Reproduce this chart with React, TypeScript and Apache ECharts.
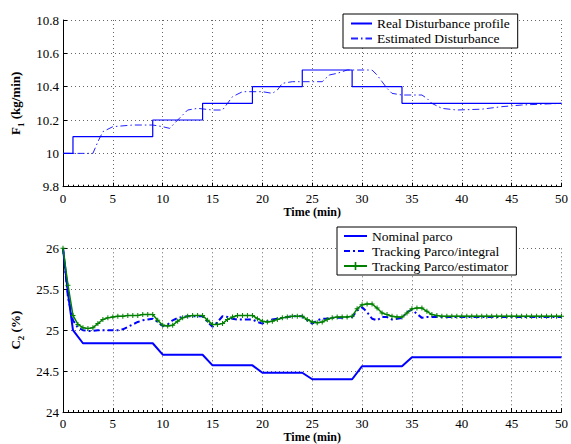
import React, { useEffect, useRef } from "react";
import * as echarts from "echarts";

// ---- Top plot: disturbance F1 (kg/min) ----
const realDisturbance: [number, number][] = [
  [0, 10.0], [1, 10.1], [9, 10.2], [14, 10.3], [19, 10.4],
  [24, 10.5], [29, 10.4], [34, 10.3], [50, 10.3],
];
const estimatedDisturbance: [number, number][] = [
  [0, 10.0], [2, 10.0], [3, 10.0], [3.5, 10.07], [4, 10.13], [5, 10.16],
  [7, 10.17], [9, 10.17], [10, 10.16], [10.7, 10.15], [11.5, 10.2],
  [12.5, 10.26], [13.5, 10.27], [15, 10.26], [16, 10.26], [16.5, 10.3],
  [17, 10.34], [18, 10.37], [20, 10.37], [21, 10.36], [21.5, 10.38],
  [22, 10.42], [23, 10.43], [26, 10.43], [26.7, 10.47], [27.5, 10.48],
  [28.5, 10.5], [31, 10.5], [31.5, 10.47], [32, 10.43], [32.5, 10.39],
  [33, 10.36], [34, 10.35], [36, 10.35], [36.5, 10.33], [37, 10.3],
  [38, 10.27], [39.5, 10.26], [42, 10.265], [44, 10.28], [46, 10.29],
  [48, 10.295], [50, 10.3],
];

// ---- Bottom plot: C2 (%) ----
const nominalParco: [number, number][] = [
  [0, 26.0], [0.5, 25.45], [1, 25.0], [2, 24.84], [9, 24.84], [10, 24.7],
  [14, 24.7], [15, 24.57], [19, 24.57], [20, 24.48], [24, 24.48],
  [25, 24.4], [29, 24.4], [30, 24.56], [34, 24.56], [35, 24.67], [50, 24.67],
];
const sampleStep = 0.5;
const trackingIntegral: number[] = [
  26.0, 25.4, 25.12, 25.03, 25.0, 24.99, 24.99, 25.0, 25.0, 25.0,
  25.0, 25.0, 25.01, 25.04, 25.07, 25.1, 25.12, 25.13, 25.14, 25.1,
  25.05, 25.07, 25.12, 25.15, 25.16, 25.17, 25.17, 25.17, 25.17, 25.1,
  25.04, 25.1, 25.17, 25.16, 25.14, 25.13, 25.13, 25.13, 25.13, 25.1,
  25.08, 25.11, 25.13, 25.14, 25.15, 25.16, 25.17, 25.17, 25.17, 25.12,
  25.08, 25.12, 25.14, 25.14, 25.15, 25.15, 25.15, 25.16, 25.16, 25.24,
  25.28, 25.22, 25.14, 25.12, 25.16, 25.16, 25.13, 25.14, 25.15, 25.22,
  25.25, 25.2, 25.15, 25.16, 25.16, 25.16, 25.16, 25.16, 25.16, 25.16,
  25.16, 25.16, 25.16, 25.16, 25.16, 25.16, 25.16, 25.16, 25.16, 25.16,
  25.16, 25.16, 25.16, 25.16, 25.16, 25.16, 25.16, 25.16, 25.16, 25.16,
  25.16,
];
const trackingEstimator: number[] = [
  26.0, 25.55, 25.18, 25.07, 25.03, 25.02, 25.03, 25.08, 25.13, 25.15,
  25.16, 25.17, 25.17, 25.18, 25.18, 25.18, 25.19, 25.19, 25.19, 25.12,
  25.06, 25.05, 25.06, 25.11, 25.15, 25.17, 25.18, 25.18, 25.18, 25.12,
  25.07, 25.07, 25.08, 25.13, 25.16, 25.18, 25.18, 25.18, 25.18, 25.14,
  25.11, 25.1, 25.11, 25.13, 25.15, 25.16, 25.17, 25.17, 25.17, 25.13,
  25.1, 25.09, 25.1, 25.13, 25.15, 25.16, 25.16, 25.16, 25.17, 25.26,
  25.31, 25.32, 25.32, 25.27, 25.21, 25.19, 25.17, 25.16, 25.16, 25.21,
  25.26, 25.27, 25.27, 25.23, 25.19, 25.18, 25.17, 25.17, 25.17, 25.17,
  25.17, 25.17, 25.17, 25.17, 25.17, 25.17, 25.17, 25.17, 25.17, 25.17,
  25.17, 25.17, 25.17, 25.17, 25.17, 25.17, 25.17, 25.17, 25.17, 25.17,
  25.17,
];

const xTickInterval = 5;
const topYTicks = { min: 9.8, max: 10.8, interval: 0.2 };
const bottomYTicks = { min: 24, max: 26, interval: 0.5 };

const FONT = "Liberation Serif";

function withTimes(values: number[]): [number, number][] {
  return values.map((v, i) => [i * sampleStep, v]);
}

export default function App() {
  const ref = useRef<HTMLDivElement>(null);
  useEffect(() => {
    if (!ref.current) return;
    const chart = echarts.init(ref.current, undefined, { renderer: "svg" });

    const dotted = { color: "#666", width: 1, type: [1, 3] as number[] };
    const makeX = (gridIndex: number) => ({
      type: "value" as const,
      gridIndex,
      min: 0,
      max: 50,
      interval: xTickInterval,
      name: "Time (min)",
      nameLocation: "middle" as const,
      nameGap: 19,
      nameTextStyle: { fontFamily: FONT, fontWeight: "bold", fontSize: 12, color: "#000" },
      axisLine: { show: true, onZero: false, lineStyle: { color: "#000", width: 1 } },
      axisTick: { show: true, inside: true, length: 4, lineStyle: { color: "#000" } },
      minorTick: { show: true, splitNumber: 10, length: 2, lineStyle: { color: "#000" } },
      axisLabel: { fontFamily: FONT, fontSize: 13, color: "#000", margin: 5 },
      splitLine: { show: true, lineStyle: dotted },
    });
    const rich = {
      a: { fontFamily: FONT, fontWeight: "bold", fontSize: 13, color: "#000", lineHeight: 20 },
      s: { fontFamily: FONT, fontWeight: "bold", fontSize: 9, color: "#000", lineHeight: 9, verticalAlign: "bottom" },
    };
    const makeY = (gridIndex: number, t: { min: number; max: number; interval: number }, name: string) => ({
      type: "value" as const,
      gridIndex,
      min: t.min,
      max: t.max,
      interval: t.interval,
      name,
      nameLocation: "middle" as const,
      nameRotate: 90,
      nameGap: 34,
      nameTextStyle: { fontFamily: FONT, rich },
      axisLine: { show: true, onZero: false, lineStyle: { color: "#000", width: 1 } },
      axisTick: { show: true, inside: true, length: 4, lineStyle: { color: "#000" } },
      axisLabel: {
        fontFamily: FONT, fontSize: 13, color: "#000", margin: 4,
        formatter: (v: number) => String(parseFloat(v.toFixed(2))),
      },
      splitLine: { show: true, lineStyle: dotted },
    });

    const legendBase = {
      orient: "vertical" as const,
      selectedMode: false,
      backgroundColor: "#fff",
      borderColor: "#000",
      borderWidth: 1,
      borderRadius: 0,
      itemGap: 0,
      itemHeight: 10,
      textStyle: { fontFamily: FONT, fontSize: 13.5, color: "#000", lineHeight: 15 },
    };
    const noSymbol = { itemStyle: { opacity: 0 } };

    chart.setOption({
      animation: false,
      backgroundColor: "#fff",
      textStyle: { fontFamily: FONT },
      grid: [
        { left: 63, top: 20, width: 500, height: 166.7 },
        { left: 63, top: 248.3, width: 500, height: 166.7 },
      ],
      xAxis: [makeX(0), makeX(1)],
      yAxis: [
        makeY(0, topYTicks, "{a|F}{s|1}{a| (kg/min)}"),
        makeY(1, bottomYTicks, "{a|C}{s|2}{a| (%)}"),
      ],
      legend: [
        {
          ...legendBase,
          left: 343,
          top: 14,
          padding: [2, 8, 2, 7],
          itemWidth: 21,
          data: [
            { name: "Real Disturbance profile", ...noSymbol },
            { name: "Estimated Disturbance", ...noSymbol },
          ],
        },
        {
          ...legendBase,
          left: 337,
          top: 227,
          padding: [1.5, 8, 1.5, 6],
          itemWidth: 23,
          data: [
            { name: "Nominal parco", ...noSymbol },
            { name: "Tracking Parco/integral", ...noSymbol },
            { name: "Tracking Parco/estimator" },
          ],
        },
      ],
      series: [
        {
          name: "Real Disturbance profile",
          type: "line",
          xAxisIndex: 0,
          yAxisIndex: 0,
          step: "end",
          symbol: "none",
          data: realDisturbance,
          lineStyle: { color: "#0000ff", width: 1.2 },
          itemStyle: { color: "#0000ff" },
          z: 3,
        },
        {
          name: "Estimated Disturbance",
          type: "line",
          xAxisIndex: 0,
          yAxisIndex: 0,
          symbol: "none",
          data: estimatedDisturbance,
          lineStyle: { color: "#2222ff", width: 1, type: [7, 3, 1.5, 3] },
          itemStyle: { color: "#2222ff" },
          z: 2,
        },
        {
          name: "Nominal parco",
          type: "line",
          xAxisIndex: 1,
          yAxisIndex: 1,
          symbol: "none",
          data: nominalParco,
          lineStyle: { color: "#0000ff", width: 2 },
          itemStyle: { color: "#0000ff" },
          z: 3,
        },
        {
          name: "Tracking Parco/integral",
          type: "line",
          xAxisIndex: 1,
          yAxisIndex: 1,
          symbol: "none",
          data: withTimes(trackingIntegral),
          lineStyle: { color: "#0000ff", width: 2, type: [6, 3, 2, 3] },
          itemStyle: { color: "#0000ff" },
          z: 2,
        },
        {
          name: "Tracking Parco/estimator",
          type: "line",
          xAxisIndex: 1,
          yAxisIndex: 1,
          symbol: "path://M2,0H3V2H5V3H3V5H2V3H0V2H2Z",
          symbolSize: 5,
          showAllSymbol: true,
          data: withTimes(trackingEstimator),
          lineStyle: { color: "#008000", width: 1.5 },
          itemStyle: { color: "#008000" },
          z: 4,
        },
      ],
    });
    return () => chart.dispose();
  }, []);
  return (
    <div
      ref={ref}
      style={{ position: "fixed", left: 0, top: 0, width: 571, height: 444, background: "#fff" }}
    />
  );
}
